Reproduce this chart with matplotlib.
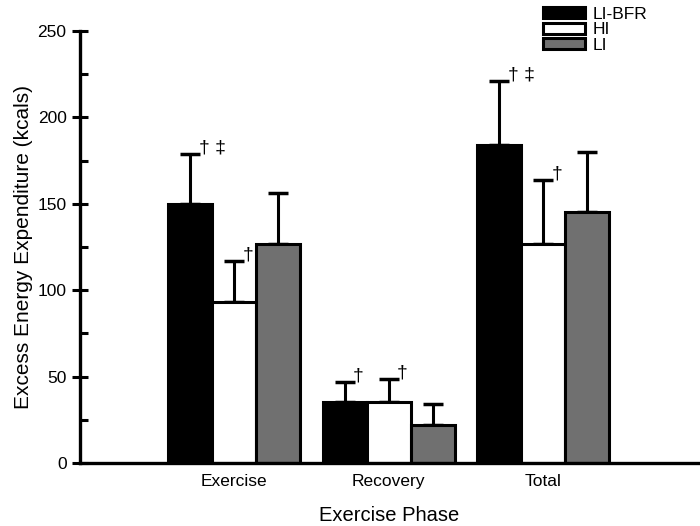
import numpy as np
import matplotlib
matplotlib.use('Agg')
import matplotlib.pyplot as plt
from matplotlib.patches import Patch
from matplotlib.ticker import MultipleLocator

plt.rcParams['font.family'] = ['Liberation Sans', 'DejaVu Sans']

# data
phases = ['Exercise', 'Recovery', 'Total']
groups = ['LI-BFR', 'HI', 'LI']
colors = ['black', 'white', '#707070']
means = {'LI-BFR': [150, 35, 184],
         'HI': [93, 35, 127],
         'LI': [127, 22, 145]}
sds = {'LI-BFR': [29, 12, 37],
       'HI': [24, 13.5, 37],
       'LI': [29, 12, 35]}
marks = {'LI-BFR': ['\u2020 \u2021', '\u2020', '\u2020 \u2021'],
         'HI': ['\u2020', '\u2020', '\u2020'],
         'LI': ['', '', '']}

fig = plt.figure(figsize=(7, 5.26), dpi=100)
ax = fig.add_axes([0.114, 0.12, 0.883, 0.821])

x = np.arange(1, len(phases) + 1)
width = 0.285
offsets = [-width, 0, width]

for g, c, off in zip(groups, colors, offsets):
    xs = x + off
    ax.bar(xs, means[g], width, color=c, edgecolor='black', linewidth=2.2, zorder=2)
    ax.errorbar(xs, means[g], yerr=[np.zeros(len(xs)), sds[g]], fmt='none',
                ecolor='black', elinewidth=2.2, capsize=7, capthick=2.5, zorder=1)
    for xi, m, s, t in zip(xs, means[g], sds[g], marks[g]):
        if t:
            ax.annotate(t, (xi, m + s), xytext=(6, -2), textcoords='offset points',
                        ha='left', va='bottom', fontsize=14)

ax.set_xlim(0, 4)
ax.set_ylim(0, 250)
ax.set_xticks(x)
ax.set_xticklabels(phases, fontsize=12.5)
ax.tick_params(axis='x', length=0, pad=8)
ax.yaxis.set_major_locator(MultipleLocator(50))
ax.yaxis.set_minor_locator(MultipleLocator(25))
ax.tick_params(axis='y', which='major', direction='inout', length=12, width=2.2, labelsize=12.5)
ax.tick_params(axis='y', which='minor', direction='in', length=6, width=2.2)
for side in ['top', 'right']:
    ax.spines[side].set_visible(False)
for side in ['left', 'bottom']:
    ax.spines[side].set_linewidth(2.4)

ax.set_ylabel('Excess Energy Expenditure (kcals)', fontsize=15, labelpad=3)
ax.set_xlabel('Exercise Phase', fontsize=14.5, labelpad=12)

handles = [Patch(facecolor=c, edgecolor='black', linewidth=2.2) for c in colors]
fig.legend(handles, groups, loc='upper left', bbox_to_anchor=(0.766, 1.0),
           frameon=False, fontsize=12.5, handlelength=2.4, handleheight=0.6,
           labelspacing=0.02, handletextpad=0.45, borderaxespad=0)

fig.savefig('out.png', dpi=100)
